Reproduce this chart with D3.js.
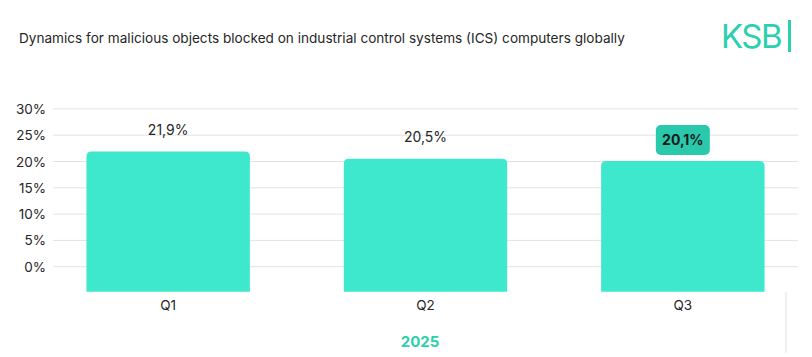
<!DOCTYPE html>
<html><head><meta charset="utf-8">
<script src="https://cdn.jsdelivr.net/npm/d3@7"></script>
<style>body{margin:0;background:#fff}svg{display:block}text{font-family:Inter,"Noto Sans",sans-serif}</style>
</head><body>
<svg id="c" width="812" height="357"></svg>
<script>
const categories = ["Q1","Q2","Q3"];
const values = [21.9, 20.5, 20.1];
const valueLabels = ["21,9%","20,5%","20,1%"];
const yTicks = [0,5,10,15,20,25,30];
const yearLabel = "2025";
const title = "Dynamics for malicious objects blocked on industrial control systems (ICS) computers globally";
const highlightIndex = 2;

const svg = d3.select("#c");
const teal = "#3ee8cc", dark = "#2bc9ab", txt = "#262626";

const y = d3.scaleLinear().domain([-4.75, 30]).range([291.7, 108.9]);
const x = d3.scaleBand().domain(categories).range([53, 798]).paddingInner(0.365).paddingOuter(0.13);

svg.append("text").attr("x", 19).attr("y", 43).attr("font-size", 13.6).attr("fill", txt).text(title);

// logo
svg.append("text").attr("x", 721).attr("y", 48).attr("font-size", 33).attr("fill", "#2ccfae").attr("letter-spacing", -1.5).text("KSB");
svg.append("rect").attr("x", 788).attr("y", 20).attr("width", 3).attr("height", 32).attr("fill", "#2ccfae");

// grid
svg.append("g").selectAll("line").data(yTicks).join("line")
  .attr("x1", 53).attr("x2", 798).attr("y1", d => y(d)).attr("y2", d => y(d))
  .attr("stroke", "#e3e3e3").attr("stroke-width", 1);
svg.append("g").selectAll("text").data(yTicks).join("text")
  .attr("x", 46).attr("y", d => y(d) + 5).attr("text-anchor", "end").attr("font-size", 13.5).attr("fill", txt)
  .text(d => d + "%");

// bars with rounded top
const r = 5;
svg.append("g").selectAll("path").data(values).join("path")
  .attr("fill", teal)
  .attr("d", (d, i) => {
    const x0 = x(categories[i]), w = x.bandwidth(), t = y(d), b = y.range()[0];
    return `M${x0},${b}V${t + r}Q${x0},${t} ${x0 + r},${t}H${x0 + w - r}Q${x0 + w},${t} ${x0 + w},${t + r}V${b}Z`;
  });

// value labels
values.forEach((d, i) => {
  const cx = x(categories[i]) + x.bandwidth() / 2;
  if (i === highlightIndex) {
    svg.append("rect").attr("x", cx - 27).attr("y", y(d) - 36).attr("width", 54).attr("height", 30)
      .attr("rx", 5).attr("fill", dark);
    svg.append("text").attr("x", cx).attr("y", y(d) - 16).attr("text-anchor", "middle")
      .attr("font-size", 14).attr("font-weight", 700).attr("fill", "#1a1a1a").text(valueLabels[i]);
  } else {
    svg.append("text").attr("x", cx).attr("y", y(d) - 17).attr("text-anchor", "middle")
      .attr("font-size", 14).attr("fill", txt).text(valueLabels[i]);
  }
});

// category labels
svg.append("g").selectAll("text").data(categories).join("text")
  .attr("x", d => x(d) + x.bandwidth() / 2).attr("y", 310).attr("text-anchor", "middle")
  .attr("font-size", 13.5).attr("fill", txt).text(d => d);

svg.append("line").attr("x1", 786).attr("x2", 786).attr("y1", 292).attr("y2", 353).attr("stroke", "#e0e0e0");

svg.append("text").attr("x", 420).attr("y", 347).attr("text-anchor", "middle").attr("font-size", 15)
  .attr("font-weight", 700).attr("fill", "#2ccfae").text(yearLabel);
</script>
</body></html>
